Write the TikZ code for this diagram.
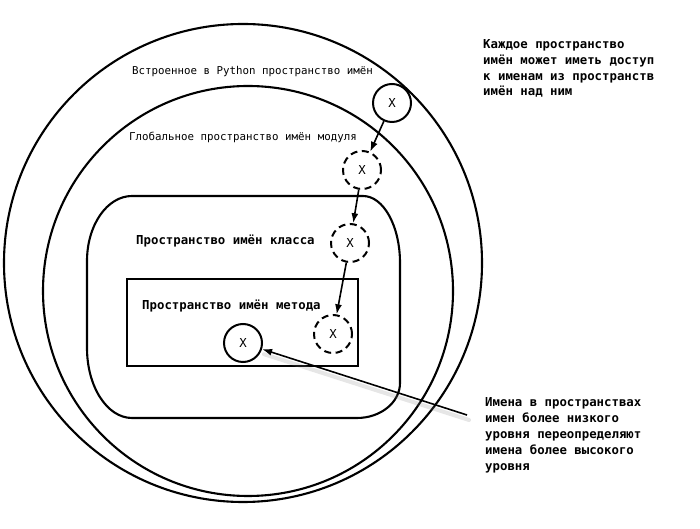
\documentclass[tikz,border=0pt]{standalone}
\usepackage{fontspec}
\newfontfamily\labelfont{DejaVu Sans Mono}
\usetikzlibrary{arrows.meta, positioning}
\newcommand{\smalllabel}{\labelfont\fontsize{10.8}{13}\selectfont}
\newcommand{\biglabel}{\labelfont\bfseries\fontsize{12.35}{15.8}\selectfont}

\tikzset{
  xvar/.style={circle, draw, line width=2pt, minimum size=38pt, inner sep=0pt, font=\labelfont\fontsize{12.35}{15}\selectfont},
  xhidden/.style={xvar, dash pattern=on 7pt off 4.5pt},
  link/.style={-{Latex[length=10pt, width=7pt]}, line width=1.6pt},
  area/.style={line width=2.1pt},
  caption/.style={anchor=west, inner sep=0pt},
}

\begin{document}
\begin{tikzpicture}[x=1pt, y=1pt]
        \useasboundingbox (0, 0) rectangle (700, 529);

        % Draw the namespaces
        \draw[area] (243, 266) ellipse [x radius=239, y radius=239];
        \draw[area] (248, 238) ellipse [x radius=205, y radius=205];
        \draw[area] (87, 268) arc[start angle=180, end angle=90, x radius=45, y radius=65]
            -- (363, 333) arc[start angle=90, end angle=0, x radius=37, y radius=67]
            -- (400, 146) arc[start angle=0, end angle=-90, x radius=43, y radius=35]
            -- (132, 111) arc[start angle=270, end angle=180, x radius=45, y radius=70]
            -- cycle;
        \draw[area] (127, 163) rectangle (358, 250);

        % Namespace labels
        \node[caption, font=\smalllabel] (builtin) at (132, 457) {Встроенное в Python пространство имён};
        \node[caption, font=\smalllabel] (global) at (129, 392) {Глобальное пространство имён модуля};
        \node[caption, font=\biglabel] (class) at (136, 288) {Пространство имён класса};
        \node[caption, font=\biglabel] (method) at (142, 223) {Пространство имён метода};

        % The name x in each namespace
        \node[xvar] (xbuiltin) at (392, 426) {X};
        \node[xhidden] (xglobal) at (362, 359) {X};
        \node[xhidden] (xclass) at (350, 286) {X};
        \node[xhidden] (xinherit) at (333, 195) {X};
        \node[xvar] (xmethod) at (243, 186) {X};

        % Access from lower to higher
        \draw[link] (xbuiltin) -- (xglobal);
        \draw[link] (xglobal) -- (xclass);
        \draw[link] (xclass) -- (xinherit);

        % Notes
        \node[caption, align=left, font=\biglabel] (access) at (483, 460.5)
            {Каждое пространство\\имён может иметь доступ\\к именам из пространств\\имён над ним};
        \node[caption, align=left, font={\labelfont\bfseries\fontsize{12.35}{16}\selectfont}] (override) at (485, 94)
            {Имена в пространствах\\имен более низкого\\уровня переопределяют\\имена более высокого\\уровня};

        % Pointer to the overriding name
        \coordinate (hint) at (467, 114);
        \coordinate (hintshadow) at (469, 109);
        \draw[gray, opacity=0.2, line width=4pt, line cap=round] (hintshadow) -- ([shift={(2pt,-5pt)}]xmethod.-18);
        \draw[link] (hint) -- (xmethod);
    \end{tikzpicture}
\end{document}
